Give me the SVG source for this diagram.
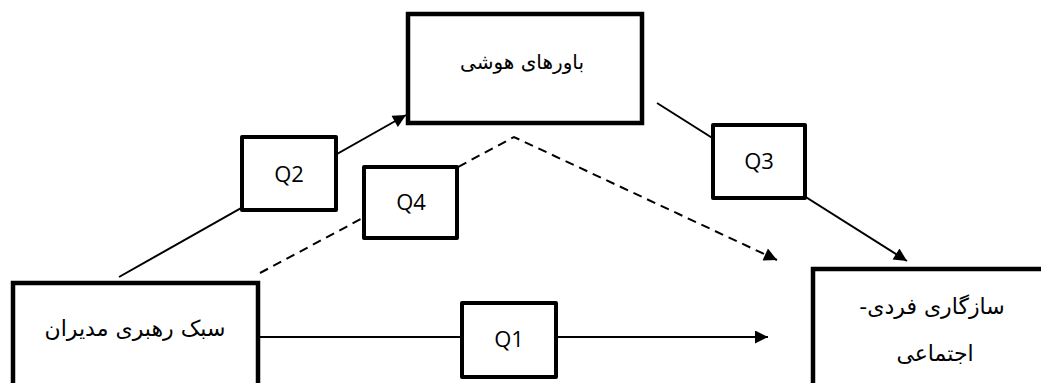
<svg xmlns="http://www.w3.org/2000/svg" width="1041" height="383" viewBox="0 0 1041 383">
<defs>
<marker id="arr" viewBox="0 0 10 10" refX="10" refY="5" markerWidth="7.5" markerHeight="6.5" markerUnits="strokeWidth" orient="auto">
<path d="M0,0 L10,5 L0,10 z" fill="#000"/>
</marker>
<style>
.main{fill:#fff;stroke:#000;stroke-width:4.5}
.q{fill:#fff;stroke:#000;stroke-width:4;stroke-linejoin:round}
.c{fill:none;stroke:#000;stroke-width:2}
.d{fill:none;stroke:#000;stroke-width:2;stroke-dasharray:9,6}
.fa{font-family:"DejaVu Sans",sans-serif;font-size:21px;fill:#000;text-anchor:middle;direction:rtl;unicode-bidi:embed}
.ql{font-family:"Open Sans",sans-serif;font-size:22px;fill:#000;text-anchor:middle}
</style>
</defs>
<rect width="1041" height="383" fill="#fff"/>
<g id="connectors">
<line class="c" x1="119" y1="277" x2="406" y2="115" marker-end="url(#arr)"/>
<polyline class="d" points="260,273 514,137 777,260" marker-end="url(#arr)"/>
<line class="c" x1="657" y1="103" x2="907" y2="261" marker-end="url(#arr)"/>
<line class="c" x1="258" y1="337" x2="768" y2="337" marker-end="url(#arr)"/>
</g>
<g id="node-leadership">
<rect class="main" x="13" y="283" width="245" height="110"/>
<text class="fa" x="135" y="336" style="font-size:22px">سبک رهبری مدیران</text>
</g>
<g id="node-beliefs">
<rect class="main" x="408" y="14" width="234" height="109"/>
<text class="fa" x="522" y="69" style="font-size:20px">باورهای هوشی</text>
</g>
<g id="node-adjustment">
<rect class="main" x="813" y="269" width="240" height="124"/>
<text class="fa" x="932" y="314" style="font-size:22px">سازگاری فردی-</text>
<text class="fa" x="935" y="361" style="font-size:22px">اجتماعی</text>
</g>
<g id="q2">
<rect class="q" x="242" y="137" width="94" height="73"/>
<text class="ql" x="289" y="182">Q2</text>
</g>
<g id="q4">
<rect class="q" x="364" y="167" width="93" height="71"/>
<text class="ql" x="411" y="210">Q4</text>
</g>
<g id="q1">
<rect class="q" x="462" y="303" width="94" height="74"/>
<text class="ql" x="509" y="347">Q1</text>
</g>
<g id="q3">
<rect class="q" x="713" y="125" width="92" height="73"/>
<text class="ql" x="759" y="169">Q3</text>
</g>
</svg>
